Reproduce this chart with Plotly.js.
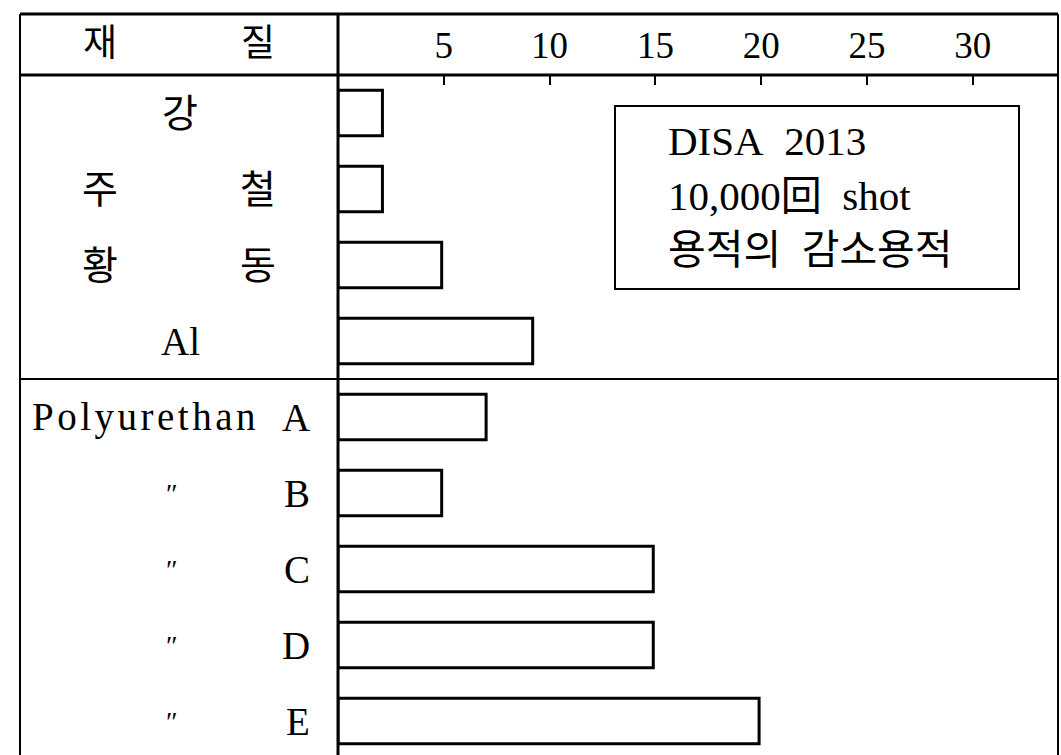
<!DOCTYPE html>
<html>
<head>
<meta charset="utf-8">
<script src="https://cdn.plot.ly/plotly-3.0.1.min.js"></script>
<style>html,body{margin:0;padding:0;background:#fff;}</style>
</head>
<body>
<div id="chart" style="width:1061px;height:755px;"></div>
<script>
// ---- data ----
const categories = ['강', '주 철', '황 동', 'Al', 'Polyurethan A', '″ B', '″ C', '″ D', '″ E'];
const reduction = [2.1, 2.1, 4.9, 9.2, 7.0, 4.9, 14.9, 14.9, 19.9];
const tickValues = [5, 10, 15, 20, 25, 30];
const headerLabels = ['재', '질'];
const noteLines = ['DISA&nbsp;&nbsp;2013', '10,000回&nbsp;&nbsp;shot', '용적의&nbsp;&nbsp;감소용적'];

// ---- geometry helpers (pixels -> paper) ----
const W = 1061, H = 755;
const M = {l: 338, r: 3, t: 75, b: 0};
const PW = W - M.l - M.r, PH = H - M.t - M.b;
const px = x => (x - M.l) / PW;
const py = y => 1 - (y - M.t) / PH;

const FONT = 'Liberation Serif, "Noto Sans CJK KR", serif';
const black = '#000';
const LABEL_SIZE = 39;

const trace = {
  type: 'bar',
  orientation: 'h',
  x: reduction,
  y: categories,
  width: 0.6,
  marker: {color: '#fff', line: {color: black, width: 3}},
  hoverinfo: 'x+y'
};

const annotations = [];
// category labels in the left column
categories.forEach(cat => {
  const parts = cat.split(' ');
  if (parts.length === 1) {
    annotations.push({text: cat, xref: 'paper', yref: 'y', x: px(180), y: cat,
      xanchor: 'center', yanchor: 'middle', showarrow: false, font: {family: FONT, size: LABEL_SIZE, color: black}});
  } else {
    const left = parts[0], right = parts[1];
    let lx, la, ltext = left;
    if (left === '″') { lx = 172; la = 'center'; }
    else if (left.length > 3) { lx = 30; la = 'left'; ltext = '<span style="letter-spacing:3.5px">' + left + '</span>'; }
    else { lx = 100; la = 'center'; }
    annotations.push({text: ltext, xref: 'paper', yref: 'y', x: px(lx), y: cat,
      xanchor: la, yanchor: 'middle', showarrow: false,
      font: {family: FONT, size: left === '″' ? 28 : LABEL_SIZE, color: black}});
    let rx, ra;
    if (/[A-Za-z]/.test(right)) { rx = 312; ra = 'right'; }
    else { rx = 258; ra = 'center'; }
    annotations.push({text: right, xref: 'paper', yref: 'y', x: px(rx), y: cat,
      xanchor: ra, yanchor: 'middle', showarrow: false, font: {family: FONT, size: LABEL_SIZE, color: black}});
  }
});
// header
[[100, headerLabels[0]], [258, headerLabels[1]]].forEach(([x, t]) => {
  annotations.push({text: t, xref: 'paper', yref: 'paper', x: px(x), y: py(44),
    xanchor: 'center', yanchor: 'middle', showarrow: false, font: {family: FONT, size: 37, color: black}});
});
// note box text
const noteY = [141, 196, 250];
noteLines.forEach((t, i) => {
  annotations.push({text: t, xref: 'paper', yref: 'paper', x: px(666), y: py(noteY[i]),
    xanchor: 'left', yanchor: 'middle', showarrow: false, font: {family: FONT, size: 41, color: black}});
});

const line = (x0, y0, x1, y1, w) => ({type: 'line', xref: 'paper', yref: 'paper',
  x0: px(x0), y0: py(y0), x1: px(x1), y1: py(y1), line: {color: black, width: w}});

const shapes = [
  line(20, 14, 1058, 14, 3),      // top border
  line(20, 14, 20, 755, 2),       // left border
  line(1058, 14, 1058, 755, 2),   // right border
  line(338, 14, 338, 755, 3),     // column divider
  line(20, 75, 1058, 75, 3),      // header bottom
  {type: 'line', xref: 'paper', yref: 'y', x0: px(20), x1: 1, y0: 3.5, y1: 3.5, line: {color: black, width: 2}}, // group divider
  {type: 'rect', xref: 'paper', yref: 'paper', x0: px(615), x1: px(1019), y0: py(106), y1: py(289),
   line: {color: black, width: 2}, fillcolor: 'rgba(0,0,0,0)'}
];

const layout = {
  width: W, height: H, autosize: false,
  margin: M,
  paper_bgcolor: '#fff', plot_bgcolor: '#fff',
  showlegend: false,
  bargap: 0.4,
  xaxis: {
    side: 'top', range: [0, PW / 21.16],
    tickvals: tickValues, ticktext: tickValues.map(String),
    ticks: 'inside', ticklen: 10, tickwidth: 2, tickcolor: black,
    tickfont: {family: FONT, size: 37, color: black},
    ticklabelstandoff: 9,
    showgrid: false, zeroline: false, showline: false, fixedrange: true
  },
  yaxis: {
    type: 'category', categoryorder: 'array', categoryarray: categories,
    range: [-0.5 + PH / 76, -0.5],
    showticklabels: false, ticks: '', showgrid: false, zeroline: false, showline: false, fixedrange: true
  },
  annotations: annotations,
  shapes: shapes
};

Plotly.newPlot('chart', [trace], layout, {displayModeBar: false, staticPlot: true});
</script>
</body>
</html>
